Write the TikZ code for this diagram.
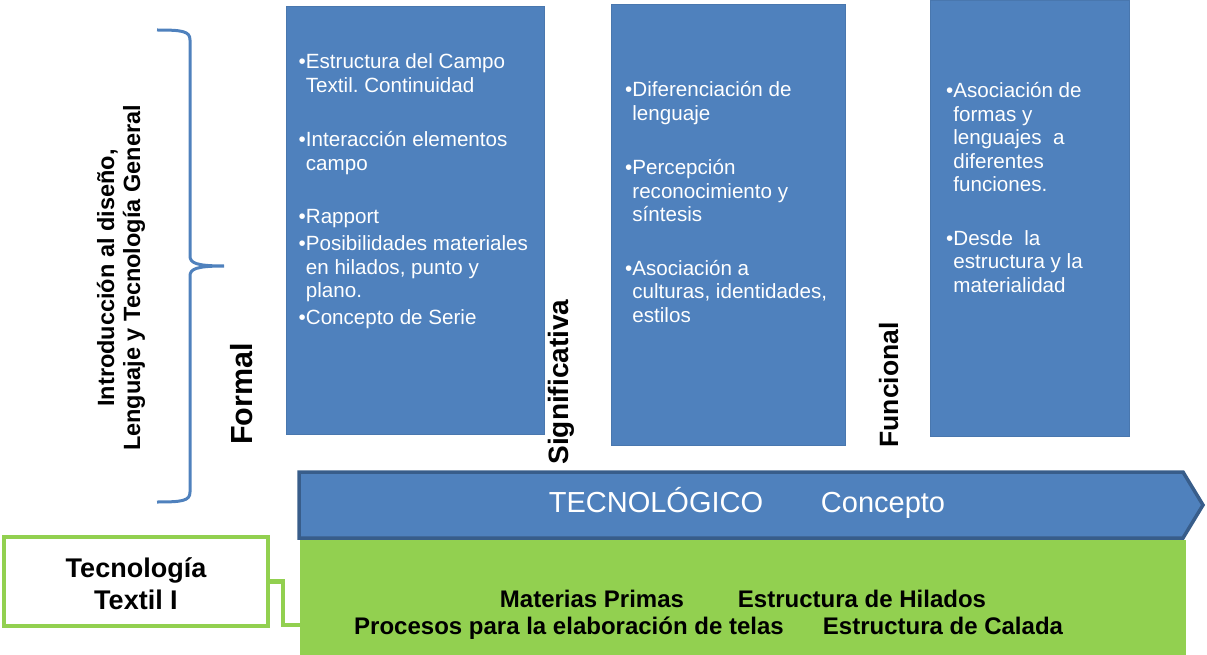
\documentclass[tikz,border=0pt]{standalone}
\usepackage{fontspec}
\setmainfont{Liberation Sans}
\frenchspacing
\definecolor{boxblue}{HTML}{4F81BD}
\definecolor{arrowedge}{HTML}{385D8A}
\definecolor{leafgreen}{HTML}{92D050}
\newcommand\fsz[2]{\fontsize{#1}{#2}\selectfont}
\newcommand\bitem[1]{\begin{tabular}[t]{@{}l@{}l@{}}•&#1\end{tabular}}
\begin{document}
\begin{tikzpicture}[x=1pt,y=-1pt,
  panel/.style={fill=boxblue, draw=boxblue!92!black, line width=0.6pt, anchor=north west, inner sep=0pt, outer sep=0pt},
  bullets/.style={anchor=base west, inner sep=0pt, text=white, font=\fsz{20.6}{23.5}},
  axislabel/.style={rotate=90, anchor=base, inner sep=0pt, font=\bfseries\fsz{28}{30}},
  greentext/.style={anchor=base, inner sep=0pt, font=\bfseries\fsz{24}{27}},
  arrowtext/.style={anchor=base, inner sep=0pt, text=white, font=\fsz{29}{32}},
  link/.style={draw=leafgreen, line width=4.5pt}
]
\useasboundingbox (0,0) rectangle (1207,655);

% panels
\node[panel, minimum width=258pt, minimum height=428pt] (p1) at (286,6) {};
\node[panel, minimum width=234pt, minimum height=441pt] (p2) at (611,4) {};
\node[panel, minimum width=199pt, minimum height=436pt] (p3) at (930,0) {};

% panel 1 text
\node[bullets] (a1) at (298.5,69) {\bitem{Estructura del Campo\\&Textil. Continuidad}};
\node[bullets] (a2) at (298.5,147) {\bitem{Interacción elementos\\&campo}};
\node[bullets] (a3) at (298.5,224) {\bitem{Rapport}};
\node[bullets] (a4) at (298.5,251) {\bitem{Posibilidades materiales\\&en hilados, punto y\\&plano.}};
\node[bullets] (a5) at (298.5,324) {\bitem{Concepto de Serie}};

% panel 2 text
\node[bullets] (b1) at (625,97) {\bitem{Diferenciación de\\&lenguaje}};
\node[bullets] (b2) at (625,175) {\bitem{Percepción\\&reconocimiento y\\&síntesis}};
\node[bullets] (b3) at (625,275) {\bitem{Asociación a\\&culturas, identidades,\\&estilos}};

% panel 3 text
\node[bullets] (c1) at (946,98) {\bitem{Asociación de\\&formas y\\&lenguajes\ \ a\\&diferentes\\&funciones.}};
\node[bullets] (c2) at (946,245) {\bitem{Desde\ \ la\\&estructura y la\\&materialidad}};

% green base
\node[fill=leafgreen, anchor=north west, minimum width=886pt, minimum height=116pt, inner sep=0pt, outer sep=0pt] (base) at (300,540) {};

% arrow
\draw[fill=boxblue, draw=arrowedge, line width=3.5pt, line join=miter]
  (299,472) -- (1183,472) -- (1203,505) -- (1183,538) -- (299,538) -- cycle;
\node[arrowtext] (tec) at (656,512) {TECNOLÓGICO};
\node[arrowtext] (con) at (883,512) {Concepto};

% green texts
\node[greentext] (mp) at (592,607) {Materias Primas};
\node[greentext] (eh) at (862,607) {Estructura de Hilados};
\node[greentext] (pp) at (569,634) {Procesos para la elaboración de telas};
\node[greentext] (ec) at (943,634) {Estructura de Calada};

% Tecnologia Textil I
\node[draw=leafgreen, line width=4.5pt, fill=white, minimum width=264pt, minimum height=89pt, inner sep=0pt, outer sep=0pt, anchor=north west] (tt) at (4,537) {};
\node[align=center, inner sep=0pt, font=\bfseries\fsz{27}{32}] (ttl) at ([yshift=-2pt]tt.center) {Tecnología\\Textil I};
\coordinate (j) at (300,625);
\draw[link] (tt.east) -- ++(15,0) |- (j);

% brace
\draw[boxblue, line width=3pt]
  (157,30) .. controls (182,30) and (190,31) .. (190,40) -- (190,256)
  .. controls (190,263) and (196,266) .. (224,266)
  .. controls (196,266) and (190,269) .. (190,276) -- (190,492)
  .. controls (190,501) and (182,502) .. (157,502);

% vertical labels
\node[rotate=90, align=center, inner sep=0pt, font=\bfseries\fsz{23.5}{26}] (intro) at (121,278) {Introducción al diseño,\\Lenguaje y Tecnología General};
\node[axislabel, font=\bfseries\fsz{30.5}{32}] (formal) at (252,394) {Formal};
\node[axislabel] (sig) at (568,382) {Significativa};
\node[axislabel, font=\bfseries\fsz{26.5}{28}] (fun) at (898,385) {Funcional};
\end{tikzpicture}
\end{document}
